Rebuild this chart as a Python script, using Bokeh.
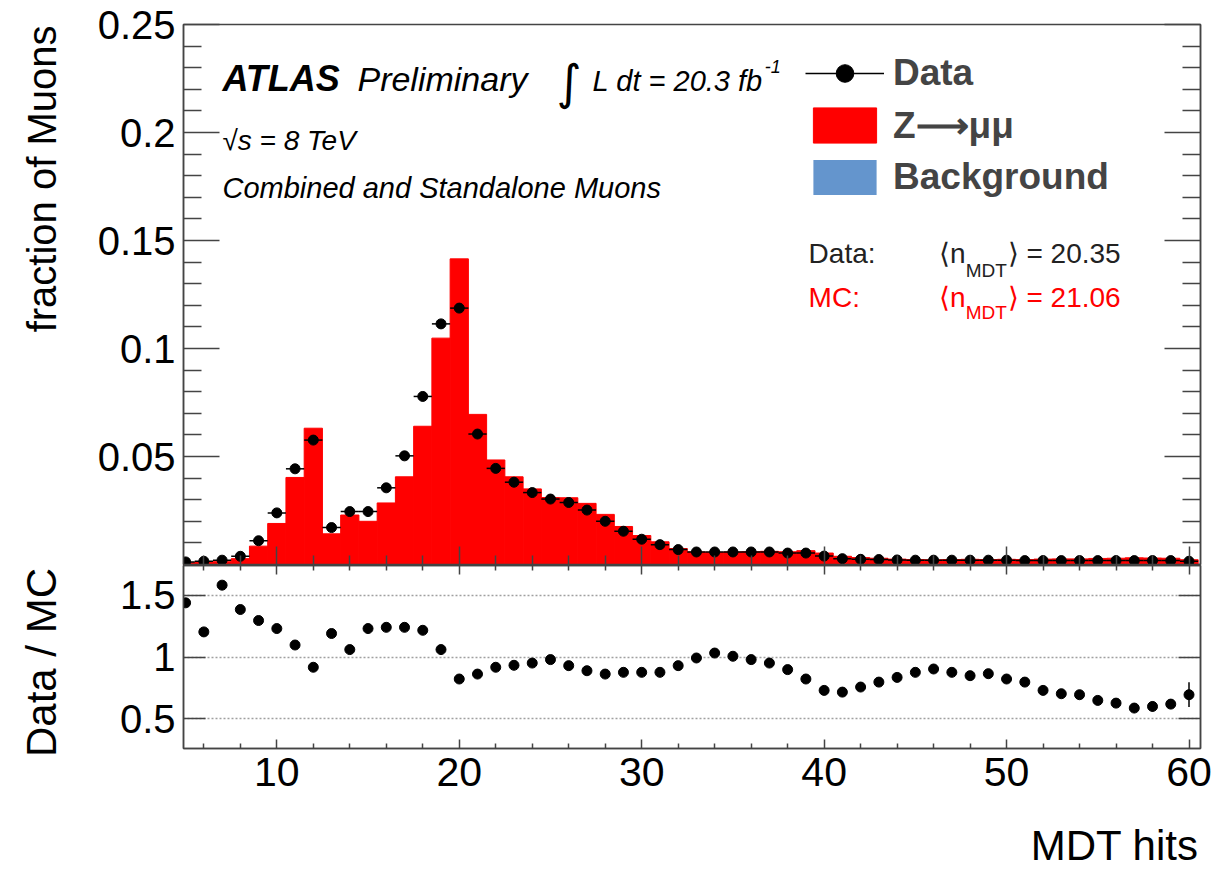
import math
from bokeh.plotting import figure
from bokeh.layouts import column, row
from bokeh.models import (ColumnDataSource, FixedTicker, LinearAxis, Range1d, Label,
                          Legend, LegendItem, CustomJSTickFormatter, Grid)
from bokeh.embed import file_html
from bokeh.resources import INLINE

# ---------------- data ----------------
mdt_hits = [5, 6, 7, 8, 9, 10, 11, 12, 13, 14,
            15, 16, 17, 18, 19, 20, 21, 22, 23, 24,
            25, 26, 27, 28, 29, 30, 31, 32, 33, 34,
            35, 36, 37, 38, 39, 40, 41, 42, 43, 44,
            45, 46, 47, 48, 49, 50, 51, 52, 53, 54,
            55, 56, 57, 58, 59, 60]

data_frac = [0.0012, 0.0015, 0.0020, 0.0038, 0.0110, 0.0239, 0.0443, 0.0576, 0.0171, 0.0245,
             0.0245, 0.0355, 0.0503, 0.0778, 0.1114, 0.1187, 0.0604, 0.0445, 0.0381, 0.0333,
             0.0303, 0.0287, 0.0252, 0.0200, 0.0154, 0.0117, 0.0092, 0.0069, 0.0058, 0.0058,
             0.0058, 0.0058, 0.0058, 0.0053, 0.0053, 0.0039, 0.0027, 0.0024, 0.0023, 0.0021,
             0.0020, 0.0020, 0.0020, 0.0020, 0.0020, 0.0020, 0.0018, 0.0018, 0.0018, 0.0018,
             0.0018, 0.0018, 0.0018, 0.0018, 0.0018, 0.0015]

zmumu_frac = [0.0008, 0.0012, 0.0013, 0.0027, 0.0085, 0.0190, 0.0403, 0.0631, 0.0142, 0.0229,
              0.0200, 0.0285, 0.0406, 0.0640, 0.1048, 0.1415, 0.0695, 0.0484, 0.0406, 0.0350,
              0.0310, 0.0309, 0.0283, 0.0232, 0.0176, 0.0134, 0.0105, 0.0074, 0.0058, 0.0056,
              0.0058, 0.0059, 0.0061, 0.0059, 0.0064, 0.0053, 0.0038, 0.0032, 0.0029, 0.0025,
              0.0023, 0.0022, 0.0023, 0.0024, 0.0023, 0.0024, 0.0023, 0.0025, 0.0026, 0.0026,
              0.0028, 0.0029, 0.0031, 0.0030, 0.0029, 0.0022]

# background is too small to be seen in the picture
background_frac = [0.0, 0.0, 0.0, 0.0, 0.0, 0.0, 0.0, 0.0, 0.0, 0.0,
                   0.0, 0.0, 0.0, 0.0, 0.0, 0.0, 0.0, 0.0, 0.0, 0.0,
                   0.0, 0.0, 0.0, 0.0, 0.0, 0.0, 0.0, 0.0, 0.0, 0.0,
                   0.0, 0.0, 0.0, 0.0, 0.0, 0.0, 0.0, 0.0, 0.0, 0.0,
                   0.0, 0.0, 0.0, 0.0, 0.0, 0.0, 0.0, 0.0, 0.0, 0.0,
                   0.0, 0.0, 0.0, 0.0, 0.0, 0.0]

ratio = [1.438, 1.203, 1.581, 1.384, 1.295, 1.230, 1.097, 0.917, 1.190, 1.060,
         1.230, 1.240, 1.240, 1.216, 1.060, 0.822, 0.862, 0.917, 0.933, 0.951,
         0.979, 0.930, 0.889, 0.862, 0.876, 0.876, 0.876, 0.930, 0.992, 1.032,
         1.006, 0.979, 0.951, 0.898, 0.822, 0.730, 0.716, 0.757, 0.797, 0.835,
         0.876, 0.903, 0.876, 0.849, 0.865, 0.822, 0.797, 0.730, 0.703, 0.695,
         0.649, 0.627, 0.587, 0.600, 0.619, 0.695]

ratio_err = [0.03, 0.03, 0.03, 0.02, 0.01, 0.01, 0.01, 0.01, 0.01, 0.01,
             0.01, 0.01, 0.01, 0.01, 0.01, 0.01, 0.01, 0.01, 0.01, 0.01,
             0.01, 0.01, 0.01, 0.01, 0.01, 0.01, 0.01, 0.01, 0.01, 0.01,
             0.01, 0.01, 0.01, 0.01, 0.01, 0.01, 0.02, 0.02, 0.02, 0.02,
             0.02, 0.02, 0.02, 0.02, 0.02, 0.02, 0.03, 0.03, 0.03, 0.03,
             0.03, 0.03, 0.04, 0.04, 0.04, 0.10]

main_yticks = [0.05, 0.1, 0.15, 0.2, 0.25]
ratio_yticks = [0.5, 1, 1.5]
xticks = [10, 20, 30, 40, 50, 60]

# ---------------- helpers ----------------
FONT = "Liberation Sans"
AX = "#444444"
fmt = CustomJSTickFormatter(code="return tick.toString();")
x_minor = [v for v in range(6, 61, 2) if v % 10 != 0]
y_minor = [round(0.01 * k, 2) for k in range(1, 26) if k % 5 != 0]

STRIP_W = 80          # left strip holding the y-axis titles
PANEL_W = 1216 - STRIP_W


def make_axis(ticks, minor, tin, minin, labels=True, fs="40px", standoff=8):
    ax = LinearAxis(ticker=FixedTicker(ticks=ticks, minor_ticks=minor), formatter=fmt)
    ax.major_tick_in = tin
    ax.major_tick_out = 0
    ax.minor_tick_in = minin
    ax.minor_tick_out = 0
    ax.axis_line_color = AX
    ax.axis_line_width = 1.5
    ax.major_tick_line_color = AX
    ax.major_tick_line_width = 1.5
    ax.minor_tick_line_color = AX
    ax.minor_tick_line_width = 1.5
    if labels:
        ax.major_label_text_font = FONT
        ax.major_label_text_font_size = fs
        ax.major_label_text_color = "black"
        ax.major_label_standoff = standoff
    else:
        ax.major_label_text_font_size = "1px"
        ax.major_label_text_color = None
        ax.major_label_standoff = 0
    return ax


def lab(fig, x, y, text, size, style="normal", color="black", font=FONT,
        align="left", angle=0.0):
    fig.add_layout(Label(x=x, y=y, text=text, text_font=font, text_font_size=size,
                         text_font_style=style, text_color=color, text_align=align,
                         text_baseline="middle", angle=angle))


def strip(width, height, xr_, yr_):
    f = figure(width=width, height=height, x_range=xr_, y_range=yr_,
               output_backend="svg", toolbar_location=None,
               x_axis_location=None, y_axis_location=None,
               min_border_left=0, min_border_right=0, min_border_top=0, min_border_bottom=0)
    f.grid.visible = False
    f.outline_line_color = None
    return f


xr = Range1d(4.885, 60.63)

src = ColumnDataSource(dict(
    x=mdt_hits,
    left=[v - 0.5 for v in mdt_hits],
    right=[v + 0.5 for v in mdt_hits],
    data=data_frac,
    bg=background_frac,
    stack=[b + m for b, m in zip(background_frac, zmumu_frac)],
    ratio=ratio,
    rlo=[r - e for r, e in zip(ratio, ratio_err)],
    rhi=[r + e for r, e in zip(ratio, ratio_err)],
))

# ---------------- main panel ----------------
p = figure(width=PANEL_W, height=565, x_range=xr, y_range=Range1d(0, 0.25),
           output_backend="svg", toolbar_location=None,
           x_axis_location=None, y_axis_location=None,
           min_border_left=183 - STRIP_W, min_border_right=16, min_border_top=24,
           min_border_bottom=1)
p.grid.visible = False
p.outline_line_color = AX
p.outline_line_width = 1.5

p.add_layout(make_axis(main_yticks, y_minor, 36, 18, True, "40px", 8), "left")
p.add_layout(make_axis(main_yticks, y_minor, 36, 18, False), "right")
p.add_layout(make_axis(xticks, x_minor, 18, 9, False), "below")

bg_r = p.quad(left="left", right="right", bottom=0, top="bg", source=src,
              fill_color="#6495cd", line_color=None)
mc_r = p.quad(left="left", right="right", bottom="bg", top="stack", source=src,
              fill_color="#ff0000", line_color="#ff0000", line_width=1)
seg_r = p.segment(x0="left", x1="right", y0="data", y1="data", source=src,
                  line_color="black", line_width=1.5)
pts_r = p.scatter(x="x", y="data", source=src, size=10, marker="circle",
                  fill_color="black", line_color="black")

legend = Legend(items=[LegendItem(label="Data", renderers=[seg_r, pts_r]),
                       LegendItem(label="Z⟶μμ", renderers=[mc_r]),
                       LegendItem(label="Background", renderers=[bg_r])],
                location=(622, 365), glyph_width=79, glyph_height=44, spacing=8,
                padding=0, margin=0, label_standoff=9,
                label_text_font=FONT, label_text_font_size="37px", label_text_font_style="bold",
                border_line_alpha=0, background_fill_alpha=0)
p.add_layout(legend)

lab(p, 7.02, 0.225, "ATLAS", "36px", "bold italic")
lab(p, 14.42, 0.225, "Preliminary", "34px", "italic")
lab(p, 25.35, 0.2235, "∫", "48px", "normal", font="DejaVu Sans")
lab(p, 27.31, 0.224, "L dt = 20.3 fb", "29px", "italic")
lab(p, 36.74, 0.2306, "-1", "18px", "italic")
lab(p, 7.02, 0.1963, "√s = 8 TeV", "28px", "italic")
lab(p, 7.02, 0.1741, "Combined and Standalone Muons", "29px", "italic")

lab(p, 39.15, 0.144, "Data:", "28px", color="#222222")
lab(p, 46.3, 0.144, "⟨n", "28px", color="#222222")
lab(p, 47.76, 0.1361, "MDT", "19px", color="#222222")
lab(p, 50.06, 0.144, "⟩ = 20.35", "28px", color="#222222")
lab(p, 39.15, 0.1236, "MC:", "28px", color="#ff0000")
lab(p, 46.3, 0.1236, "⟨n", "28px", color="#ff0000")
lab(p, 47.76, 0.1167, "MDT", "19px", color="#ff0000")
lab(p, 50.06, 0.1236, "⟩ = 21.06", "28px", color="#ff0000")

# ---------------- ratio panel ----------------
r = figure(width=PANEL_W, height=247, x_range=xr, y_range=Range1d(0.26, 1.74),
           output_backend="svg", toolbar_location=None,
           x_axis_location=None, y_axis_location=None,
           min_border_left=183 - STRIP_W, min_border_right=16, min_border_top=0,
           min_border_bottom=64)
r.grid.visible = False
r.outline_line_color = AX
r.outline_line_width = 1.5
r.add_layout(Grid(dimension=1, ticker=FixedTicker(ticks=ratio_yticks),
                  grid_line_color="#a0a0a0", grid_line_dash="2 2", grid_line_width=1.5))
r.add_layout(make_axis(ratio_yticks, [], 22, 0, True, "40px", 8), "left")
r.add_layout(make_axis(ratio_yticks, [], 22, 0, False), "right")
r.add_layout(make_axis(xticks, x_minor, 9, 5, True, "41px", 9), "below")
r.add_layout(make_axis(xticks, x_minor, 9, 5, False), "above")

r.segment(x0="x", x1="x", y0="rlo", y1="rhi", source=src, line_color="black", line_width=1.5)
r.scatter(x="x", y="ratio", source=src, size=10, marker="circle",
          fill_color="black", line_color="black")

# ---------------- title strips (page-pixel coordinates) ----------------
left_strip = strip(STRIP_W, 872, Range1d(0, STRIP_W), Range1d(872, 0))
lab(left_strip, 41, 25, "fraction of Muons", "40px", align="right", angle=math.pi / 2)
lab(left_strip, 41, 662, "Data / MC", "42px", align="center", angle=math.pi / 2)

bottom_strip = strip(PANEL_W, 60, Range1d(STRIP_W, 1216), Range1d(872, 812))
lab(bottom_strip, 1214, 845, "MDT hits", "42px", align="right")

layout = row(left_strip, column(p, r, bottom_strip, spacing=0), spacing=0)
open("out.html", "w").write(file_html(layout, INLINE))
